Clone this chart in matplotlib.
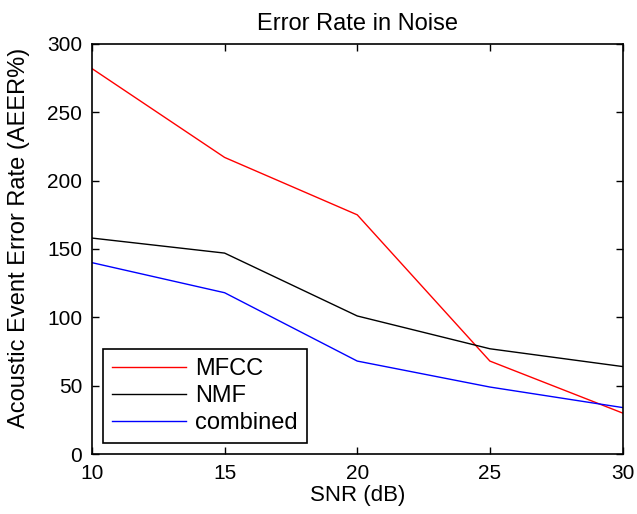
import matplotlib
matplotlib.use("Agg")
import matplotlib.pyplot as plt

snr = [10, 15, 20, 25, 30]
mfcc = [282, 217, 175, 68, 30]
nmf = [158, 147, 101, 77, 64]
combined = [140, 118, 68, 49, 34]

plt.rcParams['font.family'] = ['Liberation Sans', 'DejaVu Sans']
fig = plt.figure(figsize=(6.37, 5.14), dpi=100)
ax = fig.add_axes([92/637, 1-454/514, (622.5-92)/637, (454-44)/514])
ax.plot(snr, mfcc, color='red', lw=1, label='MFCC')
ax.plot(snr, nmf, color='black', lw=1, label='NMF')
ax.plot(snr, combined, color='blue', lw=1, label='combined')
ax.set_xlim(10, 30)
ax.set_ylim(0, 300)
ax.set_xticks([10, 15, 20, 25, 30])
ax.set_yticks([0, 50, 100, 150, 200, 250, 300])
ax.tick_params(direction='in', top=True, right=True, labelsize=15, length=5, width=1, pad=7)
for s in ax.spines.values():
    s.set_linewidth(1.2)
ax.set_xlabel('SNR (dB)', fontsize=16, labelpad=2)
ax.set_ylabel('Acoustic Event Error Rate (AEER%)', fontsize=17)
ax.yaxis.set_label_coords(-0.117, 0.526)
ax.set_title('Error Rate in Noise', fontsize=17, pad=10)
leg = ax.legend(loc='lower left', fontsize=17, fancybox=False, edgecolor='black',
                framealpha=1, handlelength=3.15, handletextpad=0.35, borderaxespad=0.45,
                labelspacing=0.2, borderpad=0.4)
leg.get_frame().set_linewidth(1.2)
fig.savefig('out.png', dpi=100)
